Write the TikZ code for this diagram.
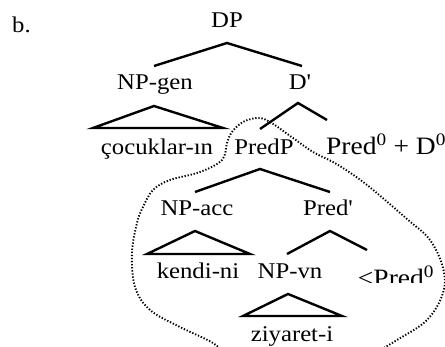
\documentclass[tikz,border=0pt]{standalone}
\usepackage{fontspec}
\newfontfamily\treefont{Liberation Serif}[FakeStretch=1.1]
\begin{document}
\begin{tikzpicture}[x=1pt,y=-1pt,
  lbl/.style={anchor=base,inner sep=0pt,font=\treefont\fontsize{22.5}{26}\selectfont},
  head/.style={lbl,font=\treefont\fontsize{25}{29}\selectfont},
  branch/.style={line width=2.4pt,line cap=butt,line join=miter},
  region/.style={line width=1.9pt,dash pattern=on 1.3pt off 1.8pt}]
\useasboundingbox (0,0) rectangle (445,347);
\clip (0,0) rectangle (445,347);

% labels
\node[lbl,anchor=base west] (ex) at (12,33) {b.};
\node[lbl] (DP) at (227,28) {DP};
\node[lbl] (NPgen) at (155,90) {NP-gen};
\node[lbl] (Dbar) at (300,90) {D'};
\node[lbl] (cocuk) at (157,155) {çocuklar-ın};
\node[lbl] (PredP) at (264,155) {PredP};
\node[head] (PredD) at (386,155) {Pred\textsuperscript{0} + D\textsuperscript{0}};
\node[lbl] (NPacc) at (197,216) {NP-acc};
\node[lbl] (Predbar) at (328,216) {Pred'};
\node[lbl] (kendi) at (198,279) {kendi-ni};
\node[lbl] (NPvn) at (290,279) {NP-vn};
\node[lbl] (ziyaret) at (292,342) {ziyaret-i};
\begin{scope}
  \clip (340,200) rectangle (445,283);
  \node[head] (tPred) at (396,287) {<Pred\textsuperscript{0}};
\end{scope}

% branch end points
\coordinate (DPa) at (227,43);
\coordinate (DPl) at (154,66);
\coordinate (DPr) at (302,66);
\coordinate (Dba) at (298,103);
\coordinate (Dbl) at (260,129);
\coordinate (Dbr) at (327,120);
\coordinate (PPa) at (260,169);
\coordinate (PPl) at (195,192);
\coordinate (PPr) at (330,192);
\coordinate (Pba) at (330,231);
\coordinate (Pbl) at (287,254);
\coordinate (Pbr) at (367,250);

% triangle corners
\coordinate (Ga) at (154,106);
\coordinate (Gl) at (93,128);
\coordinate (Gr) at (223,128);
\coordinate (Aa) at (195,231);
\coordinate (Al) at (147,254);
\coordinate (Ar) at (250,254);
\coordinate (Va) at (288,294);
\coordinate (Vl) at (243,316);
\coordinate (Vr) at (342,316);

% branches
\draw[branch] (DPl) -- (DPa) -- (DPr);
\draw[branch] (Dbl) -- (Dba) -- (Dbr);
\draw[branch] (PPl) -- (PPa) -- (PPr);
\draw[branch] (Pbl) -- (Pba) -- (Pbr);

% triangles
\draw[branch] (Ga) -- (Gl) -- (Gr) -- cycle;
\draw[branch] (Aa) -- (Al) -- (Ar) -- cycle;
\draw[branch] (Va) -- (Vl) -- (Vr) -- cycle;

% dotted outline around the PredP constituent
\draw[region] plot[smooth,tension=0.6] coordinates {
  (226,356) (213,343) (180,327) (150,310) (135,287) (132,253) (137,223)
  (143,207) (153,190) (170,180) (200,172) (222,160) (227,143) (232,132)
  (243,122) (258,118) (270,122) (293,138) (313,152) (333,162) (352,174)
  (372,189) (407,219) (430,240) (443,268) (443,293) (427,320) (397,340)
  (370,356)};
\end{tikzpicture}
\end{document}
